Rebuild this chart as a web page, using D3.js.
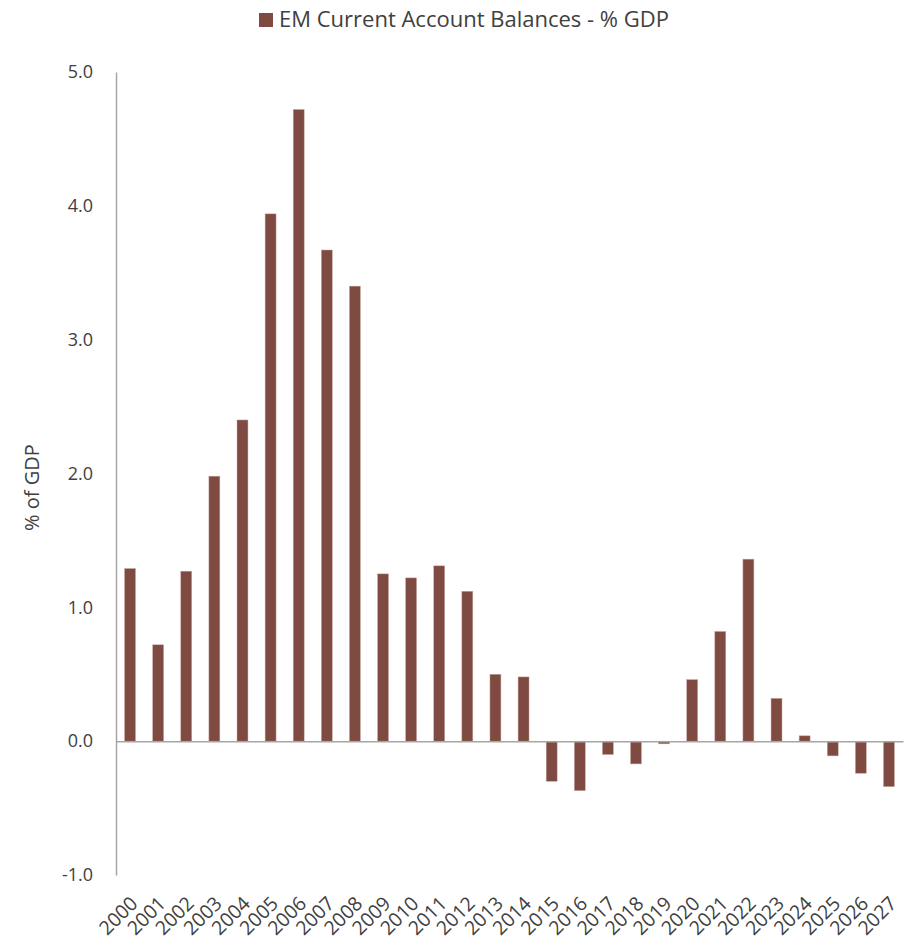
<!DOCTYPE html>
<html>
<head>
<meta charset="utf-8">
<script src="https://cdn.jsdelivr.net/npm/d3@7"></script>
<style>
  html, body { margin: 0; padding: 0; background: #fff; }
  svg text { font-family: "Open Sans", "Lato", sans-serif; fill: #404040; }
</style>
</head>
<body>
<svg id="chart" width="908" height="950"></svg>
<script>
// Emerging-market current account balances, % of GDP
const years = [2000, 2001, 2002, 2003, 2004, 2005, 2006, 2007, 2008, 2009,
               2010, 2011, 2012, 2013, 2014, 2015, 2016, 2017, 2018, 2019,
               2020, 2021, 2022, 2023, 2024, 2025, 2026, 2027];
const balances = [1.29, 0.72, 1.27, 1.98, 2.40, 3.94, 4.72, 3.67, 3.40, 1.25,
                  1.22, 1.31, 1.12, 0.50, 0.48, -0.30, -0.37, -0.10, -0.17, -0.02,
                  0.46, 0.82, 1.36, 0.32, 0.04, -0.11, -0.24, -0.34];
const yTicks = [-1, 0, 1, 2, 3, 4, 5];
const seriesName = "EM Current Account Balances - % GDP";
const yTitle = "% of GDP";

const barColor = "#7f4a41";
const axisColor = "#a6a6a6";

const svg = d3.select("#chart");
const plot = { left: 116, right: 903, top: 72, bottom: 875 };

const x = d3.scaleBand()
  .domain(years)
  .range([plot.left, plot.right])
  .paddingInner(0.61)
  .paddingOuter(0.305);

const y = d3.scaleLinear()
  .domain([-1, 5])
  .range([plot.bottom, plot.top]);

// Bars
svg.append("g")
  .selectAll("rect")
  .data(years.map((yr, i) => ({ yr, v: balances[i] })))
  .join("rect")
  .attr("x", d => x(d.yr))
  .attr("width", x.bandwidth())
  .attr("y", d => y(Math.max(0, d.v)))
  .attr("height", d => Math.abs(y(d.v) - y(0)))
  .attr("fill", barColor)
  .attr("stroke", "#c9a9a3")
  .attr("stroke-width", 0.5);

// Left axis (plain hyphen for negatives)
const fmt = d => (d < 0 ? "-" : "") + d3.format(".1f")(Math.abs(d));
const yAxis = svg.append("g")
  .attr("transform", `translate(${plot.left},0)`)
  .call(d3.axisLeft(y).tickValues(yTicks).tickFormat(fmt).tickSize(0).tickPadding(23));
yAxis.select(".domain").attr("stroke", axisColor).attr("stroke-width", 1.5);
yAxis.selectAll("text").style("font-size", "18px").attr("fill", "#404040");

// Zero line
const xAxis = svg.append("g")
  .attr("transform", `translate(0,${y(0)})`)
  .call(d3.axisBottom(x).tickSize(0).tickFormat(""));
xAxis.select(".domain").attr("stroke", axisColor).attr("stroke-width", 1.5);

// Year labels along the bottom
svg.append("g")
  .selectAll("text")
  .data(years)
  .join("text")
  .attr("transform", d => `translate(${x(d) + x.bandwidth() / 2 + 4},${plot.bottom + 25}) rotate(-45)`)
  .attr("text-anchor", "end")
  .attr("dy", "0.35em")
  .style("font-size", "19.5px")
  .text(d => d);

// Axis title
svg.append("text")
  .attr("transform", `translate(39,${(plot.top + plot.bottom) / 2 + 14}) rotate(-90)`)
  .attr("text-anchor", "middle")
  .style("font-size", "20px")
  .text(yTitle);

// Legend
const legend = svg.append("g").attr("transform", "translate(259,13)");
legend.append("rect").attr("width", 14).attr("height", 14).attr("fill", barColor);
legend.append("text")
  .attr("x", 20)
  .attr("y", 14)
  .style("font-size", "22px")
  .text(seriesName);
</script>
</body>
</html>
